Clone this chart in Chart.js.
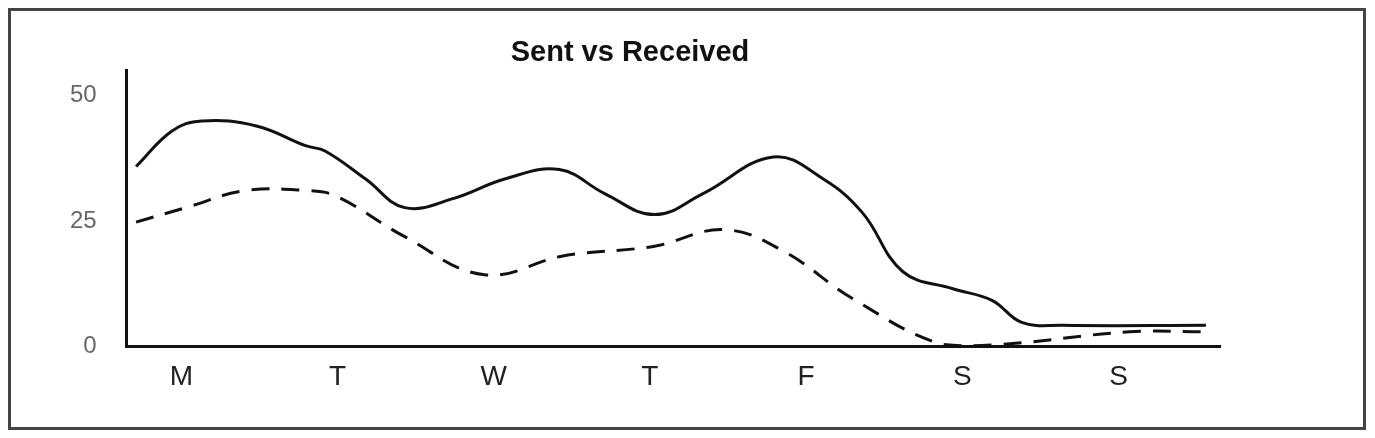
<!DOCTYPE html>
<html>
<head>
<meta charset="utf-8">
<script src="https://cdn.jsdelivr.net/npm/chart.js@4/dist/chart.umd.min.js"></script>
<style>
  html, body { margin: 0; padding: 0; background: #fff; }
  #frame { position: absolute; left: 8px; top: 8px; width: 1352px; height: 416px; border: 3px solid #444; }
  #wrap { position: absolute; left: 0; top: 0; width: 1375px; height: 438px; }
</style>
</head>
<body>
<div id="frame"></div>
<div id="wrap"><canvas id="c" width="1375" height="438"></canvas></div>
<script>
  // Days on the x axis (positions 0..6)
  var dias = ["M", "T", "W", "T", "F", "S", "S"];
  var yTicks = [0, 25, 50];

  // Sent (solid line)
  var sentX = [-0.29, -0.06, 0.13, 0.48, 0.8, 0.92, 1.18, 1.43, 1.75, 2.07, 2.42, 2.71, 3.03, 3.34, 3.79, 4.11, 4.36, 4.62, 4.94, 5.19, 5.38, 5.64, 6.56];
  var sentY = [35.9, 43, 45, 44, 40, 39, 33.4, 27.7, 29.6, 33.4, 35.3, 30.5, 26.3, 30.5, 37.8, 33.4, 26.7, 14.9, 11.5, 9.2, 4.8, 4.2, 4.2];

  // Received (dashed line)
  var recX = [-0.29, 0.03, 0.41, 0.8, 0.99, 1.43, 1.94, 2.45, 3.03, 3.47, 3.85, 4.3, 4.87, 5.25, 6.07, 6.56];
  var recY = [24.8, 27.7, 31.1, 31.1, 30, 21.9, 14.3, 18.1, 20, 23.3, 19.1, 9.5, 0.4, 0.4, 2.9, 2.9];

  function pares(xs, ys) { return xs.map(function (x, i) { return { x: x, y: ys[i] }; }); }

  new Chart(document.getElementById("c"), {
    type: "line",
    data: {
      datasets: [
        { label: "Sent", data: pares(sentX, sentY), borderColor: "#111", borderWidth: 3, pointRadius: 0, tension: 0.4, fill: false },
        { label: "Received", data: pares(recX, recY), borderColor: "#111", borderWidth: 3, borderDash: [18, 12], pointRadius: 0, tension: 0.4, fill: false }
      ]
    },
    options: {
      responsive: false, animation: false,
      layout: { padding: { left: 40, right: 155, top: 10, bottom: 30 } },
      plugins: {
        legend: { display: false }, tooltip: { enabled: false },
        title: { display: true, text: "Sent vs Received", color: "#111", font: { family: "Liberation Sans", size: 29, weight: "bold" }, padding: { top: 26, bottom: 0 } }
      },
      scales: {
        x: {
          type: "linear", min: -0.35, max: 6.65,
          afterBuildTicks: function (s) { s.ticks = dias.map(function (d, i) { return { value: i }; }); },
          ticks: { callback: function (v) { return dias[v]; }, color: "#222", font: { family: "Liberation Sans", size: 28 }, padding: 14, maxRotation: 0, autoSkip: false },
          grid: { display: false, drawTicks: false },
          border: { color: "#111", width: 3 }
        },
        y: {
          min: 0, max: 55,
          afterBuildTicks: function (s) { s.ticks = yTicks.map(function (v) { return { value: v }; }); },
          ticks: { color: "#666", font: { family: "Liberation Sans", size: 24 }, padding: 30 },
          grid: { display: false, drawTicks: false },
          border: { color: "#111", width: 3 }
        }
      }
    }
  });
</script>
</body>
</html>
